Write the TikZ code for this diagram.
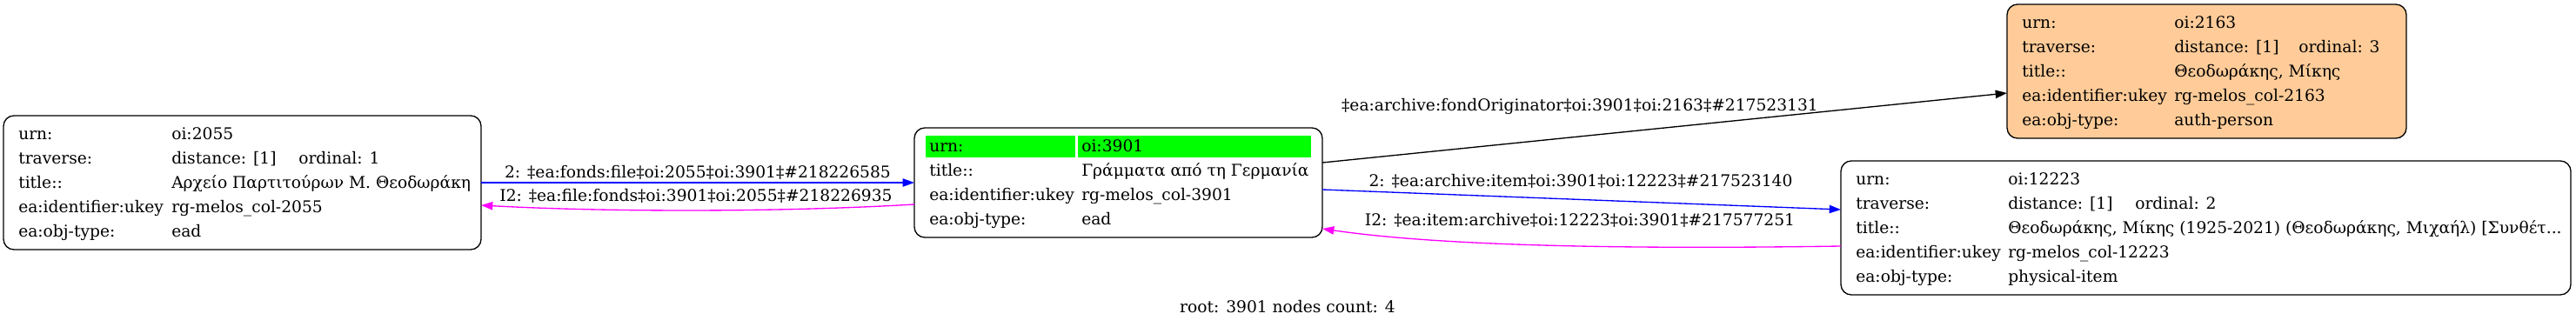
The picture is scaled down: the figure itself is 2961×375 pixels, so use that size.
\documentclass[tikz,border=0pt]{standalone}
\usepackage{fontspec}
\setmainfont{DejaVu Serif}
\usetikzlibrary{arrows.meta,calc}
\definecolor{peach}{HTML}{FFCC99}
\definecolor{mag}{HTML}{FF00FF}
\definecolor{grn}{HTML}{00FF00}
\definecolor{blu}{HTML}{0000FF}
\begin{document}
\begin{tikzpicture}[x=0.75pt,y=-0.75pt,
  recbox/.style={draw=black, line width=1pt, rounded corners=9pt, inner sep=0pt, outer sep=0pt, anchor=north west},
  txt/.style={anchor=base west, inner sep=0pt, font=\fontsize{14pt}{16pt}\selectfont},
  elabel/.style={anchor=base, inner sep=0pt, font=\fontsize{14pt}{16pt}\selectfont},
  conn/.style={line width=1pt, -{Triangle[length=10pt,width=7pt]}},
]
\useasboundingbox (0,0) rectangle (2961,375);

% ---------- boxes
\node[recbox, minimum width=549*0.75pt, minimum height=154*0.75pt] (n2055) at (4,133) {};
\node[recbox, minimum width=469*0.75pt, minimum height=126*0.75pt] (n3901) at (1051,147) {};
\node[recbox, fill=peach, minimum width=459*0.75pt, minimum height=154*0.75pt] (n2163) at (2307,5) {};
\node[recbox, minimum width=839*0.75pt, minimum height=154*0.75pt] (n12223) at (2116,185) {};

% ---------- node 2055
\node[txt] (a1) at (21,160) {urn:};
\node[txt] (a1v) at (197,160) {oi:2055};
\node[txt] (a2) at (21,188) {traverse:};
\node[txt] (a2v) at (197,188) {distance: [1]};
\node[txt] (a2o) at (343,188) {ordinal: 1};
\node[txt] (a3) at (21,216) {title::};
\node[txt] (a3v) at (197,216) {Αρχείο Παρτιτούρων Μ. Θεοδωράκη};
\node[txt] (a4) at (21,244) {ea:identifier:ukey};
\node[txt] (a4v) at (197,244) {rg-melos\_col-2055};
\node[txt] (a5) at (21,272) {ea:obj-type:};
\node[txt] (a5v) at (197,272) {ead};

% ---------- node 3901
\fill[grn] (1064,156) rectangle (1236,181);
\fill[grn] (1239,156) rectangle (1507,181);
\node[txt] (b1) at (1068,174) {urn:};
\node[txt] (b1v) at (1243,174) {oi:3901};
\node[txt] (b2) at (1068,202) {title::};
\node[txt] (b2v) at (1243,202) {Γράμματα από τη Γερμανία};
\node[txt] (b3) at (1068,230) {ea:identifier:ukey};
\node[txt] (b3v) at (1243,230) {rg-melos\_col-3901};
\node[txt] (b4) at (1068,258) {ea:obj-type:};
\node[txt] (b4v) at (1243,258) {ead};

% ---------- node 2163
\node[txt] (c1) at (2324,32) {urn:};
\node[txt] (c1v) at (2499,32) {oi:2163};
\node[txt] (c2) at (2324,60) {traverse:};
\node[txt] (c2v) at (2499,60) {distance: [1]};
\node[txt] (c2o) at (2642,60) {ordinal: 3};
\node[txt] (c3) at (2324,88) {title::};
\node[txt] (c3v) at (2499,88) {Θεοδωράκης, Μίκης};
\node[txt] (c4) at (2324,116) {ea:identifier:ukey};
\node[txt] (c4v) at (2499,116) {rg-melos\_col-2163};
\node[txt] (c5) at (2324,144) {ea:obj-type:};
\node[txt] (c5v) at (2499,144) {auth-person};

% ---------- node 12223
\node[txt] (d1) at (2133,212) {urn:};
\node[txt] (d1v) at (2308,212) {oi:12223};
\node[txt] (d2) at (2133,240) {traverse:};
\node[txt] (d2v) at (2308,240) {distance: [1]};
\node[txt] (d2o) at (2454,240) {ordinal: 2};
\node[txt] (d3) at (2133,268) {title::};
\node[txt] (d3v) at (2308,268) {Θεοδωράκης, Μίκης (1925-2021) (Θεοδωράκης, Μιχαήλ) [Συνθέτ...};
\node[txt] (d4) at (2133,296) {ea:identifier:ukey};
\node[txt] (d4v) at (2308,296) {rg-melos\_col-12223};
\node[txt] (d5) at (2133,324) {ea:obj-type:};
\node[txt] (d5v) at (2308,324) {physical-item};

% ---------- connectors
\draw[conn, blu] (n2055.east) -- (n3901.west);
\draw[conn, mag] ($(n3901.west)+(0,25)$) .. controls (900,244) and (700,244) .. ($(n2055.east)+(0,26)$);
\draw[conn, black] ($(n3901.east)+(0,-23)$) -- ($(n2163.west)+(0,25)$);
\draw[conn, blu] ($(n3901.east)+(0,8)$) -- ($(n12223.west)+(0,-21)$);
\draw[conn, mag] ($(n12223.west)+(0,21)$) .. controls (1850,287) and (1650,282) .. ($(n3901.east)+(0,53)$);

% ---------- edge labels
\node[elabel] (l1) at (802,204) {2: ‡ea:fonds:file‡oi:2055‡oi:3901‡\#218226585};
\node[elabel] (l2) at (800,231) {I2: ‡ea:file:fonds‡oi:3901‡oi:2055‡\#218226935};
\node[elabel] (l3) at (1816,127) {‡ea:archive:fondOriginator‡oi:3901‡oi:2163‡\#217523131};
\node[elabel] (l4) at (1817,214) {2: ‡ea:archive:item‡oi:3901‡oi:12223‡\#217523140};
\node[elabel] (l5) at (1816,259) {I2: ‡ea:item:archive‡oi:12223‡oi:3901‡\#217577251};

% ---------- footer
\node[elabel] (root) at (1480,359) {root: 3901 nodes count: 4};
\end{tikzpicture}
\end{document}
